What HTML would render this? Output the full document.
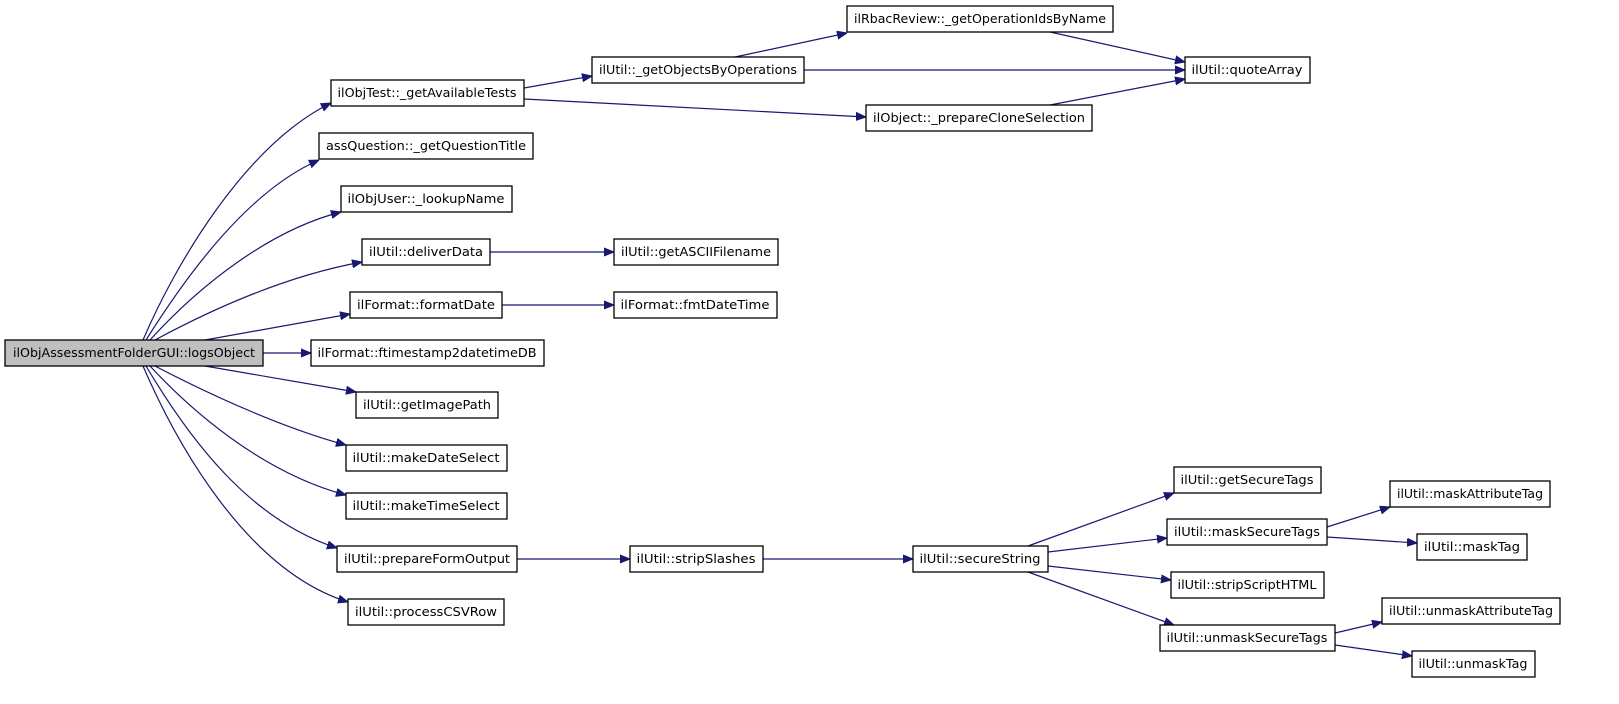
<!DOCTYPE html>
<html><head><meta charset="utf-8"><style>
html,body{margin:0;padding:0;background:#fff;}
svg{display:block;}
text{font-family:"DejaVu Sans","Liberation Sans",sans-serif;font-size:12px;fill:#000;}
.b{fill:#fff;stroke:#000;stroke-width:1.3;}
.e{fill:none;stroke:#191970;stroke-width:1.2;}
</style></head><body>
<svg width="1619" height="704" viewBox="0 0 1619 704" xmlns="http://www.w3.org/2000/svg">
<defs><marker id="a" viewBox="0 0 10 10" refX="10" refY="5" markerWidth="10" markerHeight="10" markerUnits="userSpaceOnUse" orient="auto"><path d="M0,1 L10,5 L0,9 z" fill="#191970" stroke="#191970"/></marker></defs>
<g class="e" marker-end="url(#a)">
<path d="M143,340 C175,265 245,145 331,103"/>
<path d="M146,340 C190,270 250,190 319,160"/>
<path d="M150,340 C200,285 270,230 341,212"/>
<path d="M155,340 C220,305 290,275 362,262"/>
<path d="M205,340 L350,314"/>
<path d="M263,353 L311,353"/>
<path d="M205,366 L356,392"/>
<path d="M155,366 C220,400 290,430 346,445"/>
<path d="M150,366 C200,420 270,475 346,495"/>
<path d="M146,366 C190,440 250,520 337,548"/>
<path d="M143,366 C175,440 245,570 348,602"/>
<path d="M524,88 L592,76"/>
<path d="M524,99 L866,117"/>
<path d="M735,57 L847,33"/>
<path d="M804,70 L1185,70"/>
<path d="M1050,32 L1185,62"/>
<path d="M1050,105 L1185,79"/>
<path d="M490,252 L614,252"/>
<path d="M502,305 L614,305"/>
<path d="M517,559 L630,559"/>
<path d="M763,559 L913,559"/>
<path d="M1028,546 L1174,493"/>
<path d="M1048,552 L1167,538"/>
<path d="M1048,566 L1171,580"/>
<path d="M1028,572 L1174,625"/>
<path d="M1327,527 L1390,507"/>
<path d="M1327,537 L1417,543"/>
<path d="M1335,633 L1382,622"/>
<path d="M1335,645 L1412,656"/>
</g>
<g>
<rect x="5" y="340" width="258" height="26" fill="#bfbfbf" stroke="#000" stroke-width="1.3"/>
<text x="134" y="357" text-anchor="middle" textLength="242" lengthAdjust="spacingAndGlyphs">ilObjAssessmentFolderGUI::logsObject</text>
</g>
<g id="nodes"></g>
<g>
<rect class="b" x="331" y="80" width="193" height="26"/><text x="427" y="97" text-anchor="middle" textLength="179" lengthAdjust="spacingAndGlyphs">ilObjTest::_getAvailableTests</text>
<rect class="b" x="319" y="133" width="214" height="26"/><text x="426" y="150" text-anchor="middle" textLength="200" lengthAdjust="spacingAndGlyphs">assQuestion::_getQuestionTitle</text>
<rect class="b" x="341" y="186" width="171" height="26"/><text x="426" y="203" text-anchor="middle" textLength="157" lengthAdjust="spacingAndGlyphs">ilObjUser::_lookupName</text>
<rect class="b" x="362" y="239" width="128" height="26"/><text x="426" y="256" text-anchor="middle" textLength="114" lengthAdjust="spacingAndGlyphs">ilUtil::deliverData</text>
<rect class="b" x="350" y="292" width="152" height="26"/><text x="426" y="309" text-anchor="middle" textLength="138" lengthAdjust="spacingAndGlyphs">ilFormat::formatDate</text>
<rect class="b" x="311" y="340" width="233" height="26"/><text x="427" y="357" text-anchor="middle" textLength="219" lengthAdjust="spacingAndGlyphs">ilFormat::ftimestamp2datetimeDB</text>
<rect class="b" x="356" y="392" width="142" height="26"/><text x="427" y="409" text-anchor="middle" textLength="128" lengthAdjust="spacingAndGlyphs">ilUtil::getImagePath</text>
<rect class="b" x="346" y="445" width="161" height="26"/><text x="426" y="462" text-anchor="middle" textLength="147" lengthAdjust="spacingAndGlyphs">ilUtil::makeDateSelect</text>
<rect class="b" x="346" y="493" width="161" height="26"/><text x="426" y="510" text-anchor="middle" textLength="147" lengthAdjust="spacingAndGlyphs">ilUtil::makeTimeSelect</text>
<rect class="b" x="337" y="546" width="180" height="26"/><text x="427" y="563" text-anchor="middle" textLength="166" lengthAdjust="spacingAndGlyphs">ilUtil::prepareFormOutput</text>
<rect class="b" x="348" y="599" width="156" height="26"/><text x="426" y="616" text-anchor="middle" textLength="142" lengthAdjust="spacingAndGlyphs">ilUtil::processCSVRow</text>

<rect class="b" x="592" y="57" width="212" height="26"/><text x="698" y="74" text-anchor="middle" textLength="198" lengthAdjust="spacingAndGlyphs">ilUtil::_getObjectsByOperations</text>
<rect class="b" x="866" y="105" width="226" height="26"/><text x="979" y="122" text-anchor="middle" textLength="212" lengthAdjust="spacingAndGlyphs">ilObject::_prepareCloneSelection</text>
<rect class="b" x="847" y="6" width="266" height="26"/><text x="980" y="23" text-anchor="middle" textLength="252" lengthAdjust="spacingAndGlyphs">ilRbacReview::_getOperationIdsByName</text>
<rect class="b" x="1185" y="57" width="125" height="26"/><text x="1247" y="74" text-anchor="middle" textLength="111" lengthAdjust="spacingAndGlyphs">ilUtil::quoteArray</text>
<rect class="b" x="614" y="239" width="164" height="26"/><text x="696" y="256" text-anchor="middle" textLength="150" lengthAdjust="spacingAndGlyphs">ilUtil::getASCIIFilename</text>
<rect class="b" x="614" y="292" width="163" height="26"/><text x="695" y="309" text-anchor="middle" textLength="149" lengthAdjust="spacingAndGlyphs">ilFormat::fmtDateTime</text>
<rect class="b" x="630" y="546" width="133" height="26"/><text x="696" y="563" text-anchor="middle" textLength="119" lengthAdjust="spacingAndGlyphs">ilUtil::stripSlashes</text>
<rect class="b" x="913" y="546" width="135" height="26"/><text x="980" y="563" text-anchor="middle" textLength="121" lengthAdjust="spacingAndGlyphs">ilUtil::secureString</text>
<rect class="b" x="1174" y="467" width="147" height="26"/><text x="1247" y="484" text-anchor="middle" textLength="133" lengthAdjust="spacingAndGlyphs">ilUtil::getSecureTags</text>
<rect class="b" x="1167" y="519" width="160" height="26"/><text x="1247" y="536" text-anchor="middle" textLength="146" lengthAdjust="spacingAndGlyphs">ilUtil::maskSecureTags</text>
<rect class="b" x="1171" y="572" width="153" height="26"/><text x="1247" y="589" text-anchor="middle" textLength="139" lengthAdjust="spacingAndGlyphs">ilUtil::stripScriptHTML</text>
<rect class="b" x="1160" y="625" width="175" height="26"/><text x="1247" y="642" text-anchor="middle" textLength="161" lengthAdjust="spacingAndGlyphs">ilUtil::unmaskSecureTags</text>
<rect class="b" x="1390" y="481" width="160" height="26"/><text x="1470" y="498" text-anchor="middle" textLength="146" lengthAdjust="spacingAndGlyphs">ilUtil::maskAttributeTag</text>
<rect class="b" x="1417" y="534" width="110" height="26"/><text x="1472" y="551" text-anchor="middle" textLength="96" lengthAdjust="spacingAndGlyphs">ilUtil::maskTag</text>
<rect class="b" x="1382" y="598" width="178" height="26"/><text x="1471" y="615" text-anchor="middle" textLength="164" lengthAdjust="spacingAndGlyphs">ilUtil::unmaskAttributeTag</text>
<rect class="b" x="1412" y="651" width="123" height="26"/><text x="1473" y="668" text-anchor="middle" textLength="109" lengthAdjust="spacingAndGlyphs">ilUtil::unmaskTag</text>
</g>
</svg>
</body></html>
